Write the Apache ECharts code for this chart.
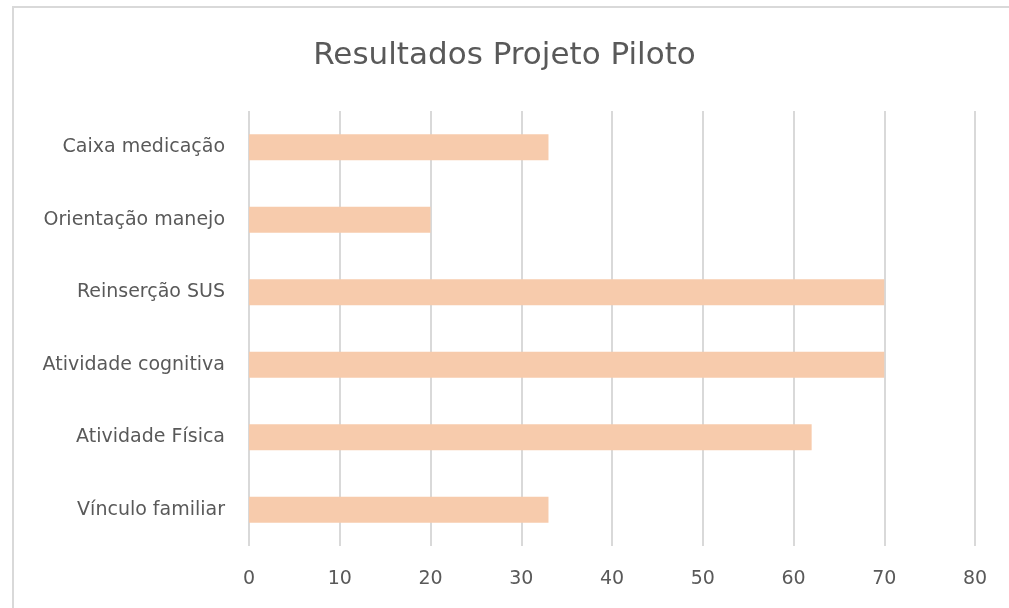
<!DOCTYPE html>
<html><head><meta charset="utf-8">
<script src="https://cdn.jsdelivr.net/npm/echarts@6/dist/echarts.min.js"></script>
<style>html,body{margin:0;padding:0;background:#fff;}#c{width:1009px;height:608px;}</style>
</head><body><div id="c"></div>
<script>
const categories = ["Caixa medicação","Orientação manejo","Reinserção SUS","Atividade cognitiva","Atividade Física","Vínculo familiar"];
const values = [33, 20, 70, 70, 62, 33];
const chart = echarts.init(document.getElementById('c'));
chart.setOption({
  animation:false,
  backgroundColor:'#fff',
  title:{text:'Resultados Projeto Piloto',left:'center',top:35,
    textStyle:{fontFamily:'DejaVu Sans',fontSize:31,fontWeight:'normal',color:'#595959'}},
  graphic:[{type:'rect',shape:{x:13,y:7,width:1100,height:700},style:{fill:'none',stroke:'#d9d9d9',lineWidth:2},silent:true}],
  grid:{left:249,right:34,top:111,bottom:62,containLabel:false},
  xAxis:{type:'value',min:0,max:80,interval:10,
    axisLine:{show:false},axisTick:{show:false},
    splitLine:{lineStyle:{color:'#d9d9d9',width:2}},
    axisLabel:{fontFamily:'DejaVu Sans',fontSize:19,color:'#595959',margin:24}},
  yAxis:{type:'category',data:categories,inverse:true,
    axisLine:{show:false},axisTick:{show:false},
    axisLabel:{fontFamily:'DejaVu Sans',fontSize:19,color:'#595959',margin:24}},
  series:[{type:'bar',data:values,barWidth:26,itemStyle:{color:'#f7cbac'}}]
});
</script></body></html>
